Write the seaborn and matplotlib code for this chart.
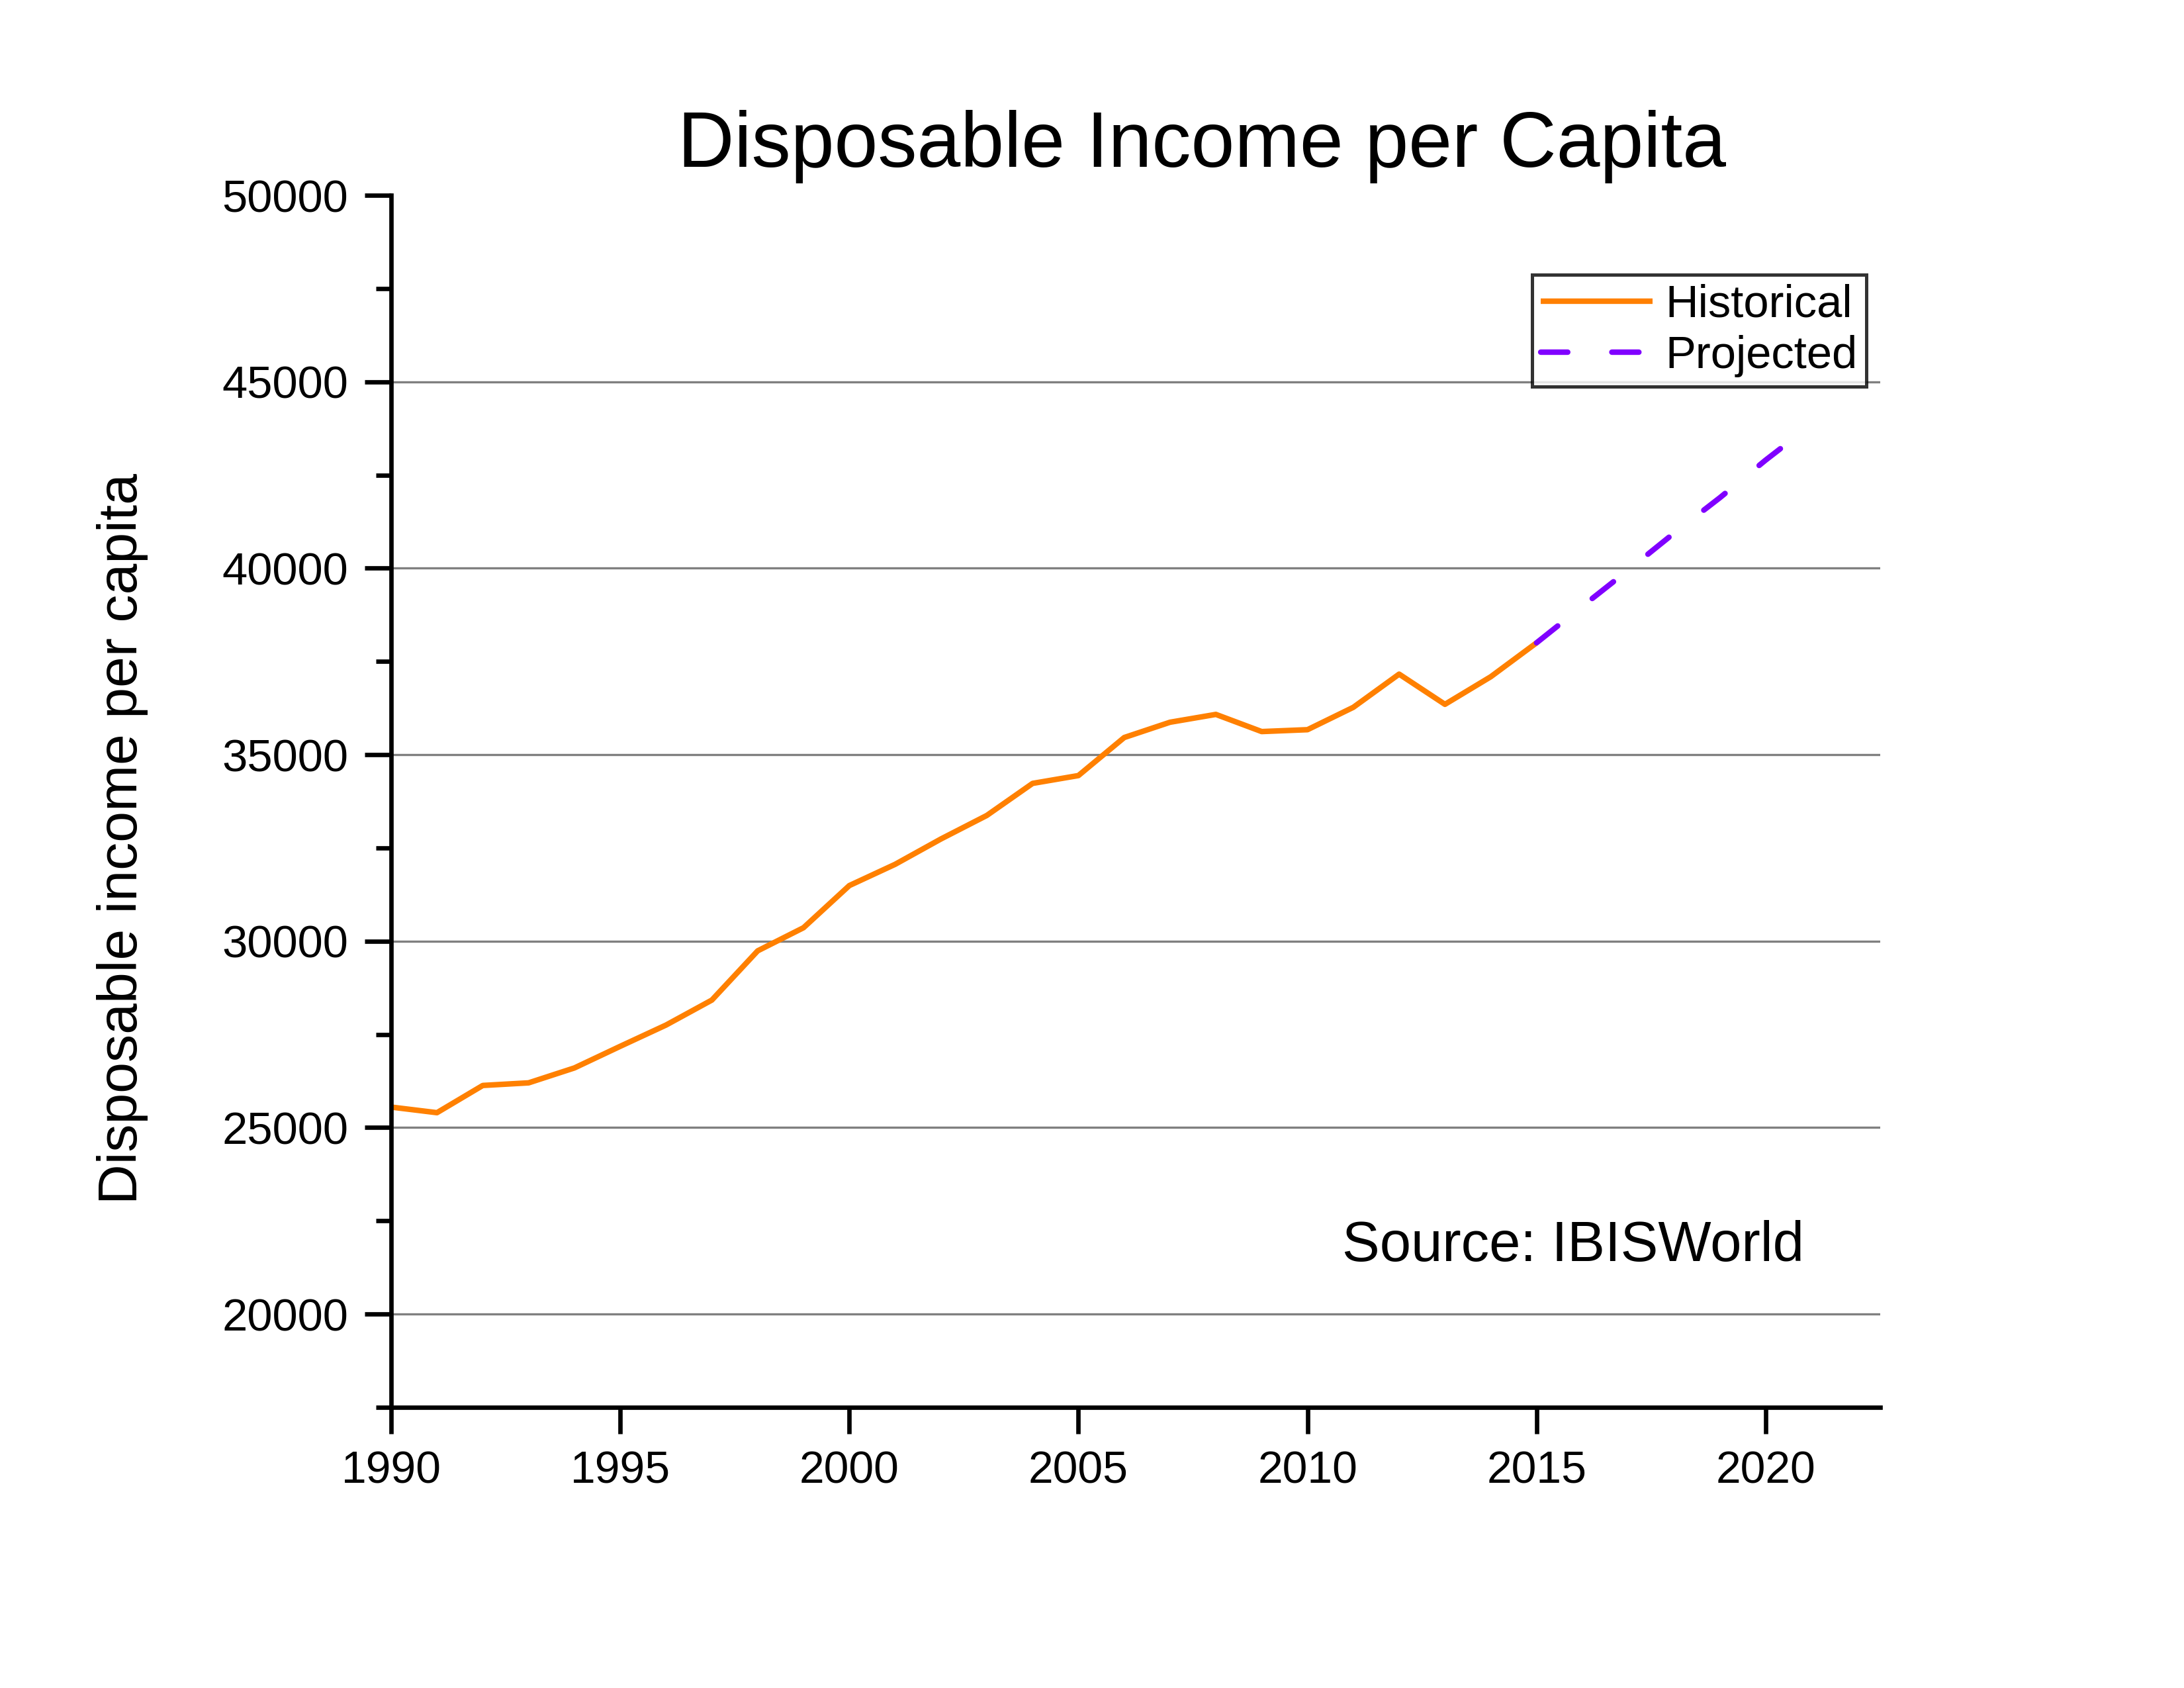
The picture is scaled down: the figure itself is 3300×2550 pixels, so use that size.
import numpy as np
import pandas as pd
import matplotlib
matplotlib.use("Agg")
import matplotlib.pyplot as plt
import seaborn as sns
from matplotlib.ticker import MultipleLocator

# data
hist_years = list(range(1990, 2016))
hist_values = [25550, 25400, 26130, 26200, 26600, 27180, 27750, 28420, 29740, 30360,
               31490, 32060, 32740, 33370, 34230, 34440, 35460, 35870, 36080, 35620,
               35670, 36270, 37160, 36350, 37090, 38000]

proj_years = list(range(2015, 2022))
proj_values = [38000, 38980, 39950, 40940, 41890, 42900, 43850]

x_ticks = [1990, 1995, 2000, 2005, 2010, 2015, 2020]
grid_levels = [20000, 25000, 30000, 35000, 40000, 45000]

hist = pd.DataFrame({"year": hist_years, "value": hist_values})
proj = pd.DataFrame({"year": proj_years, "value": proj_values})

sns.set_style("ticks")
plt.rcParams["font.family"] = ["Liberation Sans", "DejaVu Sans"]
plt.rcParams["text.color"] = "black"
plt.rcParams["axes.labelcolor"] = "black"
plt.rcParams["xtick.color"] = "black"
plt.rcParams["ytick.color"] = "black"

fig = plt.figure(figsize=(11, 8.5), dpi=300)
ax = fig.add_axes([0.1791, 0.1663, 0.6818, 0.7180])

for g in grid_levels:
    ax.axhline(g, color="#808080", lw=0.8, zorder=0)

sns.lineplot(data=hist, x="year", y="value", ax=ax, color="#FF8000", lw=2.0,
             label="Historical", solid_capstyle="butt")
sns.lineplot(data=proj, x="year", y="value", ax=ax, color="#8000FF", lw=2.0,
             linestyle=(0, (4.9, 8)), dash_capstyle="round", label="Projected")

ax.set_xlim(1990, 2022.5)
ax.set_ylim(17500, 50000)
ax.set_xticks(x_ticks)
ax.yaxis.set_major_locator(MultipleLocator(5000))
ax.yaxis.set_minor_locator(MultipleLocator(2500))
ax.tick_params(axis="x", which="major", labelsize=16.3)
ax.tick_params(axis="y", which="major", labelsize=16.5)
ax.tick_params(axis="both", which="major", length=9.6, width=1.6,
               direction="out", colors="black", pad=6)
ax.tick_params(axis="y", which="minor", length=5.5, width=1.6, direction="out")
ax.set_xlabel("")
ax.set_ylabel("")

for s in ["top", "right"]:
    ax.spines[s].set_visible(False)
for s in ["left", "bottom"]:
    ax.spines[s].set_linewidth(1.6)
    ax.spines[s].set_color("black")

leg = ax.legend(loc="upper right", bbox_to_anchor=(0.9907, 0.9345), borderaxespad=0,
                fontsize=16.5, frameon=True, fancybox=False, edgecolor="black",
                handlelength=2.45, handletextpad=0.28, labelspacing=0.2, borderpad=0.2)
leg.get_frame().set_linewidth(1.2)

ax.text(2010.75, 21420, "Source: IBISWorld", fontsize=20.4, va="baseline", ha="left")

fig.text(0.5503, 0.901, "Disposable Income per Capita", fontsize=28.4, ha="center",
         va="baseline")
fig.text(0.056, 0.503, "Disposable income per capita", fontsize=20.2, rotation=90,
         ha="center", va="center")

fig.savefig("out.png", dpi=300, facecolor="white")
